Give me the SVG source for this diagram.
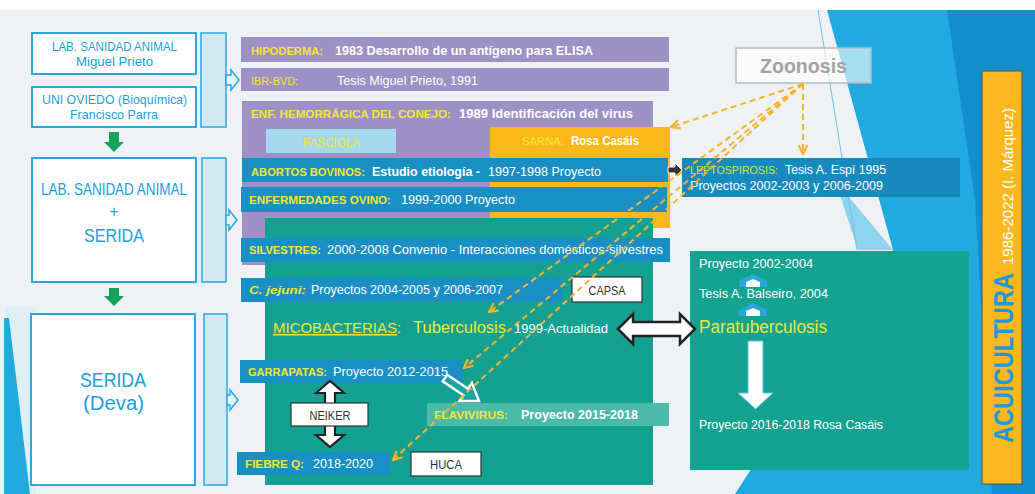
<svg xmlns="http://www.w3.org/2000/svg" width="1035" height="494" viewBox="0 0 1035 494">
<style>
text{font-family:"Liberation Sans",Arial,sans-serif;font-size:12.5px}
.b{font-weight:bold}
.n{font-weight:normal}
.lab{font-size:11.3px}
.y{fill:#f3e72e}
.w{fill:#ffffff}
.bl{fill:#1c9fdc}
.dk{fill:#333333}
.lbox{fill:#ffffff;stroke:#29a8df;stroke-width:2}
.side{fill:#d2e9f2;stroke:#29a8df;stroke-width:1.5}
.chev{fill:#e4f3f9;stroke:#29a8df;stroke-width:1.5}
.purple{fill:#9d91c6}
.bar{fill:#1a8fc3}
.teal{fill:#14a191}
.wbox{fill:#ffffff;stroke:#333333;stroke-width:1.2}
.dash{stroke:#f6b42a;stroke-width:2;stroke-dasharray:6 4;fill:none;marker-end:url(#oa)}
.green{fill:#17a25a}
</style>
<defs>
<marker id="oa" viewBox="0 0 10 10" refX="9" refY="5" markerWidth="11" markerHeight="11" markerUnits="userSpaceOnUse" orient="auto">
<path d="M1,1 L9,5 L1,9" fill="none" stroke="#f6b42a" stroke-width="2"/>
</marker>
</defs>

<g id="background">
<rect width="1035" height="494" fill="#eef2f4"/>
<polygon points="5,306 36,306 36,494 5,494" fill="#e0eff5"/>
<polygon points="4,318 9,318 30,494 4,494" fill="#22aade"/>
<polygon points="827,10 1035,10 1035,494 735,494 893,250" fill="#20aadf"/>
<polygon points="835,180 893,250 858,250" fill="#8fd3ee"/>
<polygon points="947,10 1035,10 1035,494 992,494 975,200" fill="#148fce"/>
<line x1="818" y1="10" x2="857" y2="250" stroke="#6cc6ea" stroke-width="1"/>
<rect width="1035" height="10" fill="#ffffff"/>
</g>

<g id="lab-sanidad-miguel">
<rect class="lbox" x="32" y="33" width="164" height="41"/>
<text class="bl" x="52" y="51" textLength="125" lengthAdjust="spacingAndGlyphs" style="font-size:13px">LAB. SANIDAD ANIMAL</text>
<text class="bl" x="76" y="66" textLength="77" lengthAdjust="spacingAndGlyphs" style="font-size:13px">Miguel Prieto</text>
</g>
<g id="uni-oviedo">
<rect class="lbox" x="32" y="87" width="164" height="40"/>
<text class="bl" x="42" y="104" textLength="145" lengthAdjust="spacingAndGlyphs" style="font-size:13px">UNI OVIEDO (Bioquímica)</text>
<text class="bl" x="70" y="119" textLength="88" lengthAdjust="spacingAndGlyphs" style="font-size:13px">Francisco Parra</text>
</g>
<g id="lab-sanidad-serida">
<rect class="lbox" x="32" y="158" width="164" height="124"/>
<text class="bl" x="41" y="195" textLength="146" lengthAdjust="spacingAndGlyphs" style="font-size:16px">LAB. SANIDAD ANIMAL</text>
<text class="bl" x="114" y="217" text-anchor="middle" style="font-size:16px">+</text>
<text class="bl" x="84" y="242" textLength="60" lengthAdjust="spacingAndGlyphs" style="font-size:19px">SERIDA</text>
</g>
<g id="serida-deva">
<rect class="lbox" x="31" y="314" width="164" height="171"/>
<text class="bl" x="80" y="387" textLength="66" lengthAdjust="spacingAndGlyphs" style="font-size:20px">SERIDA</text>
<text class="bl" x="83" y="410" textLength="61" lengthAdjust="spacingAndGlyphs" style="font-size:20px">(Deva)</text>
</g>
<g id="side-bars">
<rect class="side" x="201" y="33" width="25" height="94"/>
<rect class="side" x="202" y="158" width="24" height="124"/>
<rect class="side" x="204" y="314" width="23" height="171"/>
</g>

<g id="hipoderma">
<rect class="purple" x="241" y="37" width="428" height="25"/>
<text class="b" y="55"><tspan class="y lab" x="251" textLength="72" lengthAdjust="spacingAndGlyphs">HIPODERMA:</tspan><tspan class="w" x="335" textLength="258" lengthAdjust="spacingAndGlyphs">1983 Desarrollo de un antígeno para ELISA</tspan></text>
</g>
<g id="ibr-bvd">
<rect class="purple" x="241" y="68" width="428" height="23"/>
<text y="85"><tspan class="y lab" x="251" textLength="47" lengthAdjust="spacingAndGlyphs">IBR-BVD:</tspan><tspan class="w" x="337" textLength="141" lengthAdjust="spacingAndGlyphs">Tesis Miguel Prieto, 1991</tspan></text>
</g>
<g id="enf-hemorragica">
<rect class="purple" x="242" y="101" width="411" height="164"/>
<text class="b" y="118"><tspan class="y lab" x="251" textLength="200" lengthAdjust="spacingAndGlyphs">ENF. HEMORRÁGICA DEL CONEJO:</tspan><tspan class="w" x="459" textLength="174" lengthAdjust="spacingAndGlyphs">1989 Identificación del virus</tspan></text>
</g>
<g id="fasciola">
<rect x="266" y="129" width="130" height="24" fill="#a6d9f0"/>
<text class="y" x="303" y="147" textLength="57" lengthAdjust="spacingAndGlyphs">FASCIOLA</text>
</g>
<g id="sarna">
<rect x="490" y="127" width="180" height="101" fill="#fbb81b"/>
<text y="145"><tspan class="y lab" x="522" textLength="42" lengthAdjust="spacingAndGlyphs">SARNA:</tspan><tspan class="w b" x="571" textLength="68" lengthAdjust="spacingAndGlyphs">Rosa Casáis</tspan></text>
</g>
<g id="abortos-bovinos">
<rect class="bar" x="242" y="158" width="426" height="24"/>
<text class="b" y="176"><tspan class="y lab" x="251" textLength="114" lengthAdjust="spacingAndGlyphs">ABORTOS BOVINOS:</tspan><tspan class="w" x="372" textLength="108" lengthAdjust="spacingAndGlyphs">Estudio etiología -</tspan><tspan class="w n" x="488" textLength="113" lengthAdjust="spacingAndGlyphs">1997-1998 Proyecto</tspan></text>
</g>
<g id="enfermedades-ovino">
<rect class="bar" x="241" y="187" width="426" height="25"/>
<text y="204"><tspan class="y b lab" x="249" textLength="142" lengthAdjust="spacingAndGlyphs">ENFERMEDADES OVINO:</tspan><tspan class="w" x="401" textLength="114" lengthAdjust="spacingAndGlyphs">1999-2000 Proyecto</tspan></text>
</g>
<g id="micobacterias">
<rect class="teal" x="265" y="218" width="388" height="267"/>
<text y="333"><tspan class="y" x="273" textLength="124" lengthAdjust="spacingAndGlyphs" style="font-size:15px;text-decoration:underline">MICOBACTERIAS</tspan><tspan class="y" style="font-size:15px">:</tspan><tspan class="y" x="413" textLength="93" lengthAdjust="spacingAndGlyphs" style="font-size:16.4px">Tuberculosis</tspan><tspan class="w" x="514" textLength="94" lengthAdjust="spacingAndGlyphs">1999-Actualidad</tspan></text>
</g>
<g id="silvestres">
<rect class="bar" x="241" y="238" width="429" height="24"/>
<text y="254"><tspan class="y b lab" x="249" textLength="72" lengthAdjust="spacingAndGlyphs">SILVESTRES:</tspan><tspan class="w" x="327" textLength="336" lengthAdjust="spacingAndGlyphs">2000-2008 Convenio - Interacciones domésticos-silvestres</tspan></text>
</g>
<g id="c-jejuni">
<rect class="bar" x="241" y="278" width="321" height="24"/>
<text y="294"><tspan class="y b lab" x="249" font-style="italic" textLength="57" lengthAdjust="spacingAndGlyphs">C. jejuni:</tspan><tspan class="w" x="311" textLength="192" lengthAdjust="spacingAndGlyphs">Proyectos 2004-2005 y 2006-2007</tspan></text>
</g>
<g id="capsa">
<rect class="wbox" x="572" y="277" width="70" height="25"/>
<text class="dk" x="607" y="295" text-anchor="middle" textLength="37" lengthAdjust="spacingAndGlyphs">CAPSA</text>
</g>
<g id="garrapatas">
<rect class="bar" x="240" y="360" width="222" height="23"/>
<text y="376"><tspan class="y b lab" x="248" textLength="79" lengthAdjust="spacingAndGlyphs">GARRAPATAS:</tspan><tspan class="w" x="333" textLength="115" lengthAdjust="spacingAndGlyphs">Proyecto 2012-2015</tspan></text>
</g>
<g id="flavivirus">
<rect x="427" y="403" width="242" height="23" fill="#4bbaa9"/>
<text class="b" y="419"><tspan class="y lab" x="434" textLength="74" lengthAdjust="spacingAndGlyphs">FLAVIVIRUS:</tspan><tspan class="w" x="521" textLength="117" lengthAdjust="spacingAndGlyphs">Proyecto 2015-2018</tspan></text>
</g>
<g id="fiebre-q">
<rect class="bar" x="237" y="452" width="153" height="23"/>
<text y="468"><tspan class="y b lab" x="245" textLength="59" lengthAdjust="spacingAndGlyphs">FIEBRE Q:</tspan><tspan class="w" x="313" textLength="60" lengthAdjust="spacingAndGlyphs">2018-2020</tspan></text>
</g>
<g id="huca">
<rect class="wbox" x="411" y="452" width="70" height="24"/>
<text class="dk" x="446" y="469" text-anchor="middle" textLength="32" lengthAdjust="spacingAndGlyphs">HUCA</text>
</g>

<g id="zoonosis">
<rect x="736" y="48" width="135" height="35" fill="#ffffff" fill-opacity="0.6" stroke="#b9b9b9" stroke-width="1.5"/>
<text x="760" y="73" class="b" fill="#a3a3a3" textLength="87" lengthAdjust="spacingAndGlyphs" style="font-size:21px">Zoonosis</text>
</g>
<g id="leptospirosis">
<rect x="682" y="158" width="278" height="39" fill="#178bbd"/>
<text y="174"><tspan class="lab" x="690" fill="#d4e23a" textLength="88" lengthAdjust="spacingAndGlyphs">LEPTOSPIROSIS:</tspan><tspan class="w" x="785" textLength="101" lengthAdjust="spacingAndGlyphs">Tesis A. Espí 1995</tspan></text>
<text class="w" x="690" y="190" textLength="193" lengthAdjust="spacingAndGlyphs">Proyectos 2002-2003 y 2006-2009</text>
</g>
<g id="paratuberculosis">
<rect x="690" y="251" width="279" height="219" fill="#14a391"/>
<text class="w" x="699" y="268" textLength="114" lengthAdjust="spacingAndGlyphs">Proyecto 2002-2004</text>
<text class="w" x="699" y="298" textLength="129" lengthAdjust="spacingAndGlyphs">Tesis A. Balseiro<tspan class="y">,</tspan> 2004</text>
<text x="699" y="333" fill="#e8e83a" textLength="128" lengthAdjust="spacingAndGlyphs" style="font-size:18px">Paratuberculosis</text>
<text class="w" x="699" y="429" textLength="184" lengthAdjust="spacingAndGlyphs">Proyecto 2016-2018 Rosa Casáis</text>
</g>
<g id="acuicultura">
<rect x="982" y="71" width="40" height="413" fill="#f9b81d" stroke="#555555" stroke-width="1"/>
<text transform="translate(1013,443) rotate(-90)" class="b" fill="#1f9ad8" textLength="170" lengthAdjust="spacingAndGlyphs" style="font-size:27px">ACUICULTURA</text>
<text transform="translate(1013,265) rotate(-90)" class="w" textLength="157" lengthAdjust="spacingAndGlyphs" style="font-size:14px">1986-2022 (I. Márquez)</text>
</g>

<g id="connectors">
<polygon class="chev" points="226,75 231,75 231,70 239,80 231,90 231,85 226,85"/>
<polygon class="chev" points="226,215 229,215 229,210 237,220 229,230 229,225 226,225"/>
<polygon class="chev" points="227,395 230,395 230,390 238,400 230,410 230,405 227,405"/>
<polygon class="green" points="109,132 119,132 119,142 124,142 114,152 104,142 109,142"/>
<polygon class="green" points="109,288 119,288 119,296 124,296 114,306 104,296 109,296"/>
<polygon points="668,167 675,167 675,163 682,170 675,177 675,173 668,173" fill="#333333" stroke="#ffffff" stroke-width="1"/>
<polygon points="316,393 330,381 344,393 335,393 335,435 344,435 330,447 316,435 325,435 325,393" fill="#ffffff" stroke="#222222" stroke-width="2.2"/>
<rect class="wbox" x="291" y="403" width="77" height="23"/>
<text class="dk" x="330" y="420" text-anchor="middle" textLength="41" lengthAdjust="spacingAndGlyphs">NEIKER</text>
<polygon points="618,329 633,314 633,322 680,322 680,314 695,329 680,344 680,336 633,336 633,344" fill="#ffffff" stroke="#222222" stroke-width="2.5"/>
<polygon transform="translate(445,378) rotate(34)" points="0,-4 25,-4 25,-11 41,0 25,11 25,4 0,4" fill="#1aa5a3" stroke="#ffffff" stroke-width="2.5"/>
<polygon points="739,287 739,281 753,274 767,281 767,287" fill="#2aa6dc"/>
<polygon points="746,287 746,282 753,279 760,282 760,287" fill="#ffffff"/>
<polygon points="739,316 739,310 753,303 767,310 767,316" fill="#2aa6dc"/>
<polygon points="746,316 746,311 753,308 760,311 760,316" fill="#ffffff"/>
<polygon points="748,341 763,341 763,393 773,393 755.5,409 738,393 748,393" fill="#ffffff" stroke="#5cc3ea" stroke-width="1"/>
<path class="dash" d="M803,84 L671,127"/>
<path class="dash" d="M803,84 L803,154"/>
<path class="dash" d="M803,84 L489,312"/>
<path class="dash" d="M803,84 L464,368"/>
<path class="dash" d="M803,84 L393,460"/>
</g>
</svg>
